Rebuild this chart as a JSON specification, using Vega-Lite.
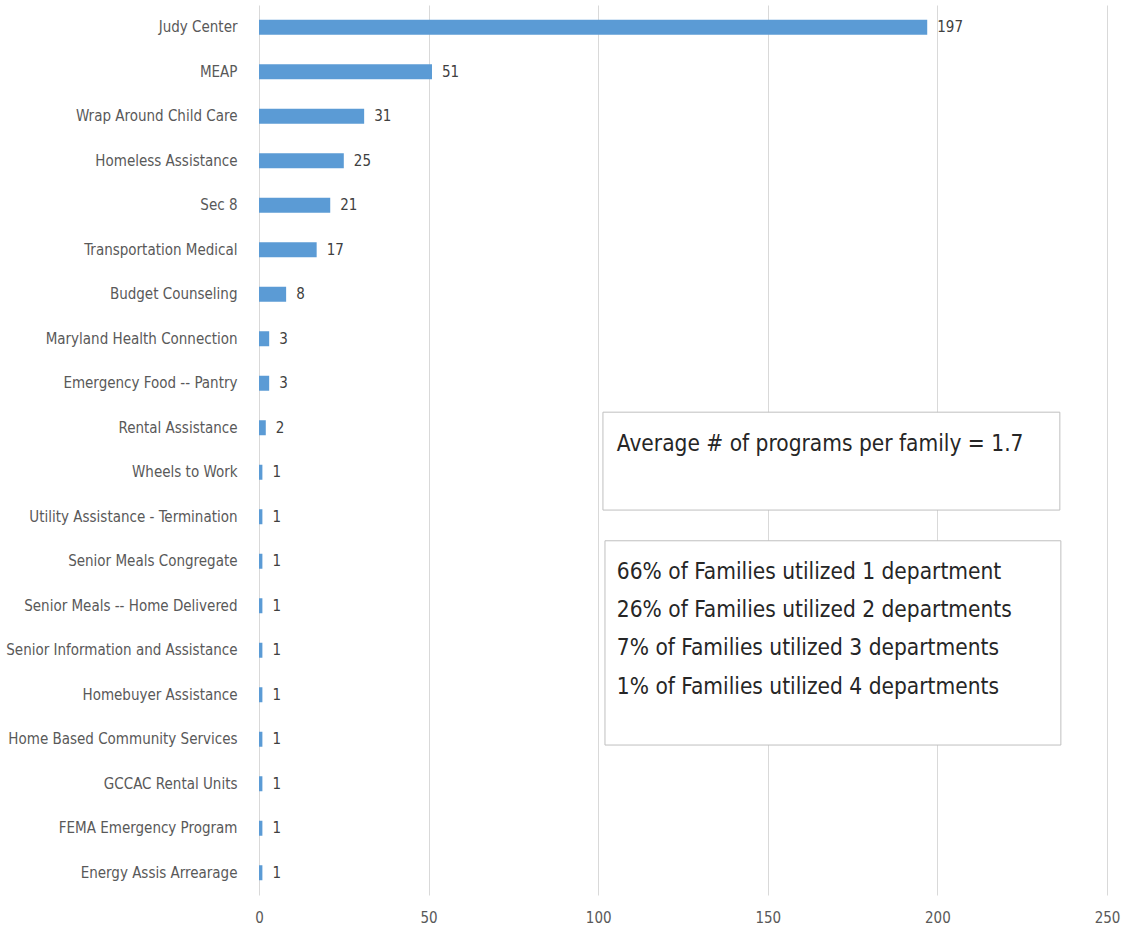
{
  "$schema": "https://vega.github.io/schema/vega-lite/v6.json",
  "autosize": {"type": "none"},
  "width": 848,
  "height": 890,
  "padding": {"left": 259, "top": 5, "right": 15, "bottom": 36},
  "background": "white",
  "config": {
    "view": {"stroke": null},
    "font": "DejaVu Sans Condensed, Liberation Sans, sans-serif"
  },
  "datasets": {
    "programs": [
      {"program": "Judy Center", "count": 197},
      {"program": "MEAP", "count": 51},
      {"program": "Wrap Around Child Care", "count": 31},
      {"program": "Homeless Assistance", "count": 25},
      {"program": "Sec 8", "count": 21},
      {"program": "Transportation Medical", "count": 17},
      {"program": "Budget Counseling", "count": 8},
      {"program": "Maryland Health Connection", "count": 3},
      {"program": "Emergency Food -- Pantry", "count": 3},
      {"program": "Rental Assistance", "count": 2},
      {"program": "Wheels to Work", "count": 1},
      {"program": "Utility Assistance - Termination", "count": 1},
      {"program": "Senior Meals Congregate", "count": 1},
      {"program": "Senior Meals -- Home Delivered", "count": 1},
      {"program": "Senior Information and Assistance", "count": 1},
      {"program": "Homebuyer Assistance", "count": 1},
      {"program": "Home Based Community Services", "count": 1},
      {"program": "GCCAC Rental Units", "count": 1},
      {"program": "FEMA Emergency Program", "count": 1},
      {"program": "Energy Assis Arrearage", "count": 1}
    ],
    "boxes": [
      {"x1": 101.4, "x2": 236.1, "y1": 9.15, "y2": 11.35},
      {"x1": 102.0, "x2": 236.4, "y1": 12.04, "y2": 16.63}
    ],
    "notes": [
      {"text": "Average # of programs per family = 1.7", "x": 105.5, "y": 9.86},
      {"text": "66% of Families utilized 1 department", "x": 105.5, "y": 12.74},
      {"text": "26% of Families utilized 2 departments", "x": 105.5, "y": 13.59},
      {"text": "7% of Families utilized 3 departments", "x": 105.5, "y": 14.45},
      {"text": "1% of Families utilized 4 departments", "x": 105.5, "y": 15.32}
    ]
  },
  "layer": [
    {
      "layer": [
        {
          "data": {"name": "programs"},
          "mark": {"type": "bar", "color": "#5B9BD5", "size": 15},
          "encoding": {
            "y": {
              "field": "program", "type": "nominal", "sort": null,
              "scale": {"paddingInner": 0, "paddingOuter": 0},
              "axis": {
                "title": null, "domain": false, "ticks": false,
                "labelFontSize": 15, "labelColor": "#595959", "labelPadding": 22,
                "labelLimit": 400
              }
            },
            "x": {
              "field": "count", "type": "quantitative",
              "scale": {"domain": [0, 250], "nice": false},
              "axis": {
                "title": null, "domain": false, "ticks": false,
                "values": [0, 50, 100, 150, 200, 250],
                "grid": true, "gridColor": "#D9D9D9", "gridWidth": 1,
                "labelFlush": false,
                "labelFontSize": 15, "labelColor": "#595959", "labelPadding": 15
              }
            }
          }
        },
        {
          "data": {"name": "programs"},
          "mark": {"type": "text", "align": "left", "baseline": "middle", "dx": 10, "fontSize": 15, "color": "#404040"},
          "encoding": {
            "y": {"field": "program", "type": "nominal", "sort": null},
            "x": {"field": "count", "type": "quantitative"},
            "text": {"field": "count", "type": "quantitative"}
          }
        }
      ]
    },
    {
      "layer": [
        {
          "data": {"name": "boxes"},
          "mark": {"type": "rect", "fill": "white", "stroke": "#BFBFBF", "strokeWidth": 1},
          "encoding": {
            "x": {"field": "x1", "type": "quantitative"},
            "x2": {"field": "x2"},
            "y": {"field": "y1", "type": "quantitative", "scale": {"domain": [0, 20], "reverse": true, "nice": false}, "axis": null},
            "y2": {"field": "y2"}
          }
        },
        {
          "data": {"name": "notes"},
          "mark": {"type": "text", "align": "left", "baseline": "middle", "fontSize": 22.5, "color": "#262626"},
          "encoding": {
            "x": {"field": "x", "type": "quantitative"},
            "y": {"field": "y", "type": "quantitative", "axis": null},
            "text": {"field": "text", "type": "nominal"}
          }
        }
      ]
    }
  ],
  "resolve": {"scale": {"y": "independent"}}
}
